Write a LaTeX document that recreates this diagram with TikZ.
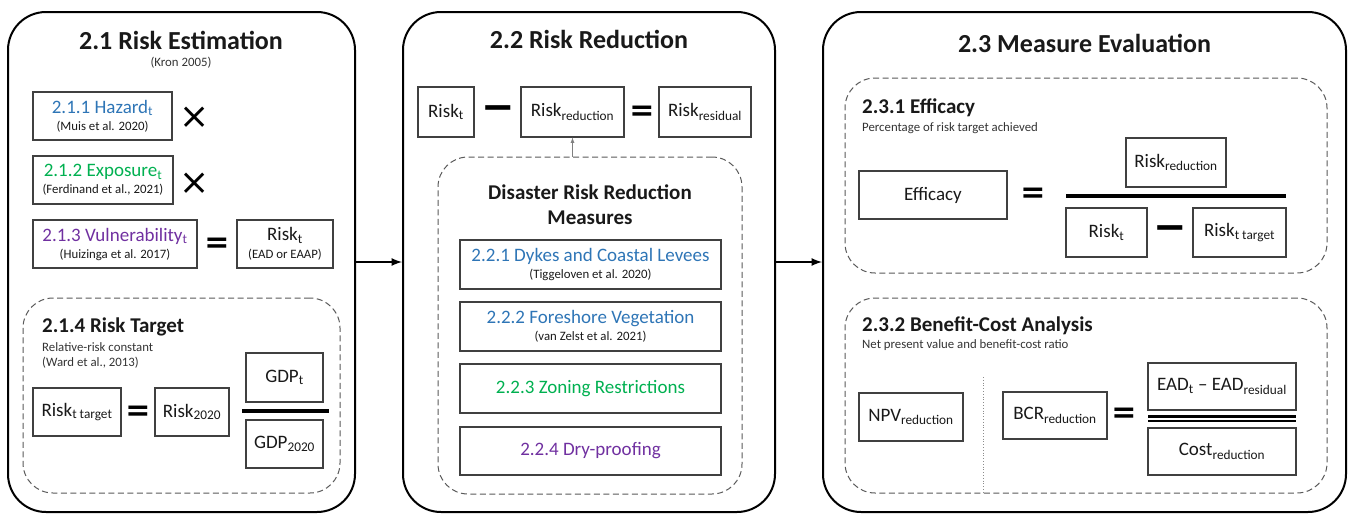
\documentclass[tikz,border=0pt]{standalone}
\usepackage{fontspec}
\setmainfont{Carlito}
\newfontfamily\opfont{DejaVu Sans}
\usepackage{tikz}
\usetikzlibrary{arrows,shapes.misc}

\definecolor{hazblue}{RGB}{46,117,182}
\definecolor{expgreen}{RGB}{0,176,80}
\definecolor{vulpurple}{RGB}{112,48,160}

\newcommand{\boxfont}{\fontsize{19}{22}\selectfont}
\newcommand{\reffont}{\fontsize{12.8}{15}\selectfont}

\tikzset{
	panel/.style={
		% The shape:
		rectangle,rounded corners=38,
		% The border:
		draw=black,line width=2,
	}}
\tikzset{
	group/.style={
		% The shape:
		rectangle,rounded corners=30,
		% The border:
		draw=black!65,line width=1,dash pattern=on 6pt off 3.5pt,
	}}
\tikzset{
	term/.style={
		% The shape:
		shape=rectangle,
		% The size:
		minimum height=48,inner sep=2,
		% The border:
		draw=black!75,line width=1.2,
		% The text:
		font=\boxfont,text=black!90,align=center,
	}}
\tikzset{
	header/.style={font=\fontsize{26}{30}\selectfont\bfseries,text=black!90,inner sep=0},
	subhead/.style={font=\fontsize{21}{25}\selectfont\bfseries,text=black!90,inner sep=0,align=center},
	note/.style={font=\reffont,text=black!80,inner sep=0,align=left},
	op/.style={font=\opfont\bfseries\fontsize{30}{30}\selectfont,inner sep=0},
	minus/.style={font=\opfont\bfseries\fontsize{40}{40}\selectfont,inner sep=0},
	times/.style={font=\opfont\fontsize{36}{36}\selectfont,inner sep=0},
	flow/.style={-latex,line width=2.5},
	bar/.style={line width=3.5},
}

\begin{document}
\begin{tikzpicture}[x=1pt,y=-1pt]
\useasboundingbox (0,0) rectangle (1350,515);

% the three panels
\node[panel,minimum width=347,minimum height=500] (est) at (181.5,262) {};
\node[panel,minimum width=372,minimum height=500] (red) at (589,262) {};
\node[panel,minimum width=523,minimum height=500] (eval) at (1084.5,262) {};
\draw[flow] (est) -- (red);
\draw[flow] (red) -- (eval);

% 2.1 Risk Estimation
\node[header] (t21) at (181,40) {2.1 Risk Estimation};
\node[note] (kron) at (181,63) {(Kron 2005)};
\node[term,minimum width=139] (haz) at (102.5,116) {{\color{hazblue}2.1.1 Hazard\textsubscript{t}}\\[-5pt]{\reffont (Muis et al. 2020)}};
\node[times] (x1) at (195,118) {×};
\node[term,minimum width=140] (expo) at (103,180) {{\color{expgreen}2.1.2 Exposure\textsubscript{t}}\\[-5pt]{\reffont (Ferdinand et al., 2021)}};
\node[times] (x2) at (195,184) {×};
\node[term,minimum width=164] (vuln) at (115,244) {{\color{vulpurple}2.1.3 Vulnerability\textsubscript{t}}\\[-5pt]{\reffont (Huizinga et al. 2017)}};
\node[op] (eq1) at (217,245) {=};
\node[term,minimum width=96] (riskt) at (285,244) {Risk\textsubscript{t}\\[-4pt]{\reffont (EAD or EAAP)}};

% 2.1.4 Risk Target
\node[group,minimum width=317,minimum height=195] (target) at (181.5,395.5) {};
\node[subhead,anchor=west] (t214) at (42,327) {2.1.4 Risk Target};
\node[note,anchor=west] (ward) at (42,355) {Relative-risk constant\\(Ward et al., 2013)};
\node[term,minimum width=88] (rtarget) at (77,412) {Risk\textsubscript{t target}};
\node[op] (eq2) at (138,413) {=};
\node[term,minimum width=74] (r2020) at (192,412) {Risk\textsubscript{2020}};
\node[term,minimum width=77,minimum height=49] (gdpt) at (284.5,377.5) {GDP\textsubscript{t}};
\draw[bar] (242,411) -- (329,411);
\node[term,minimum width=77] (gdp2020) at (284.5,444) {GDP\textsubscript{2020}};

% 2.2 Risk Reduction
\node[header] (t22) at (589,39) {2.2 Risk Reduction};
\node[term,minimum width=56,minimum height=50] (rt2) at (446,112) {Risk\textsubscript{t}};
\node[minus] (min1) at (498,113) {−};
\node[term,minimum width=103,minimum height=50] (rred) at (572.5,112) {Risk\textsubscript{reduction}};
\node[op] (eq3) at (642,113) {=};
\node[term,minimum width=92,minimum height=50] (rres) at (705,112) {Risk\textsubscript{residual}};

\node[group,minimum width=304,minimum height=337] (meas) at (590,325.5) {};
\draw[-latex,black!50,line width=0.8] (meas.north -| rred.south) -- (rred.south);
\node[subhead] (drr) at (590,205) {Disaster Risk Reduction\\Measures};
\node[term,minimum width=261,minimum height=49] (m1) at (590.5,264.5) {{\color{hazblue}2.2.1 Dykes and Coastal Levees}\\[-5pt]{\reffont (Tiggeloven et al. 2020)}};
\node[term,minimum width=261,minimum height=49] (m2) at (590.5,326.5) {{\color{hazblue}2.2.2 Foreshore Vegetation}\\[-5pt]{\reffont (van Zelst et al. 2021)}};
\node[term,minimum width=261,minimum height=49] (m3) at (590.5,388.5) {\color{expgreen}2.2.3 Zoning Restrictions};
\node[term,minimum width=261,minimum height=48] (m4) at (590.5,451) {\color{vulpurple}2.2.4 Dry-proofing};

% 2.3 Measure Evaluation
\node[header] (t23) at (1084.5,43) {2.3 Measure Evaluation};

% 2.3.1 Efficacy
\node[group,minimum width=482,minimum height=195] (effg) at (1086,175.5) {};
\node[subhead,anchor=west] (t231) at (862,108) {2.3.1 Efficacy};
\node[note,anchor=west] (pct) at (862,128) {Percentage of risk target achieved};
\node[term,minimum width=148] (eff) at (933,195) {Efficacy};
\node[op] (eq4) at (1033,195) {=};
\node[term,minimum width=100,minimum height=49] (rred3) at (1176,162.5) {Risk\textsubscript{reduction}};
\draw[bar] (1066,196) -- (1286,196);
\node[term,minimum width=81,minimum height=49] (rt3) at (1106.5,232.5) {Risk\textsubscript{t}};
\node[minus] (min2) at (1170,233) {−};
\node[term,minimum width=93,minimum height=49] (rtt3) at (1239.5,232.5) {Risk\textsubscript{t target}};

% 2.3.2 Benefit-Cost Analysis
\node[group,minimum width=482,minimum height=195] (bcag) at (1086,395.5) {};
\node[subhead,anchor=west] (t232) at (862,326) {2.3.2 Benefit-Cost Analysis};
\node[note,anchor=west] (npvtxt) at (862,345) {Net present value and benefit-cost ratio};
\node[term,minimum width=104] (npv) at (911,417) {NPV\textsubscript{reduction}};
\draw[black!45,dotted,line width=0.8] (983,377) -- (983,493);
\node[term,minimum width=104,minimum height=47] (bcr) at (1055,415.5) {BCR\textsubscript{reduction}};
\node[op] (eq5) at (1124,415) {=};
\node[term,minimum width=148,minimum height=47] (ead) at (1222,386.5) {EAD\textsubscript{t} – EAD\textsubscript{residual}};
\draw[line width=2.5] (1148,416.5) -- (1296,416.5);
\draw[line width=1.5] (1148,421) -- (1296,421);
\node[term,minimum width=148,minimum height=47] (cost) at (1222,451.5) {Cost\textsubscript{reduction}};
\end{tikzpicture}
\end{document}
